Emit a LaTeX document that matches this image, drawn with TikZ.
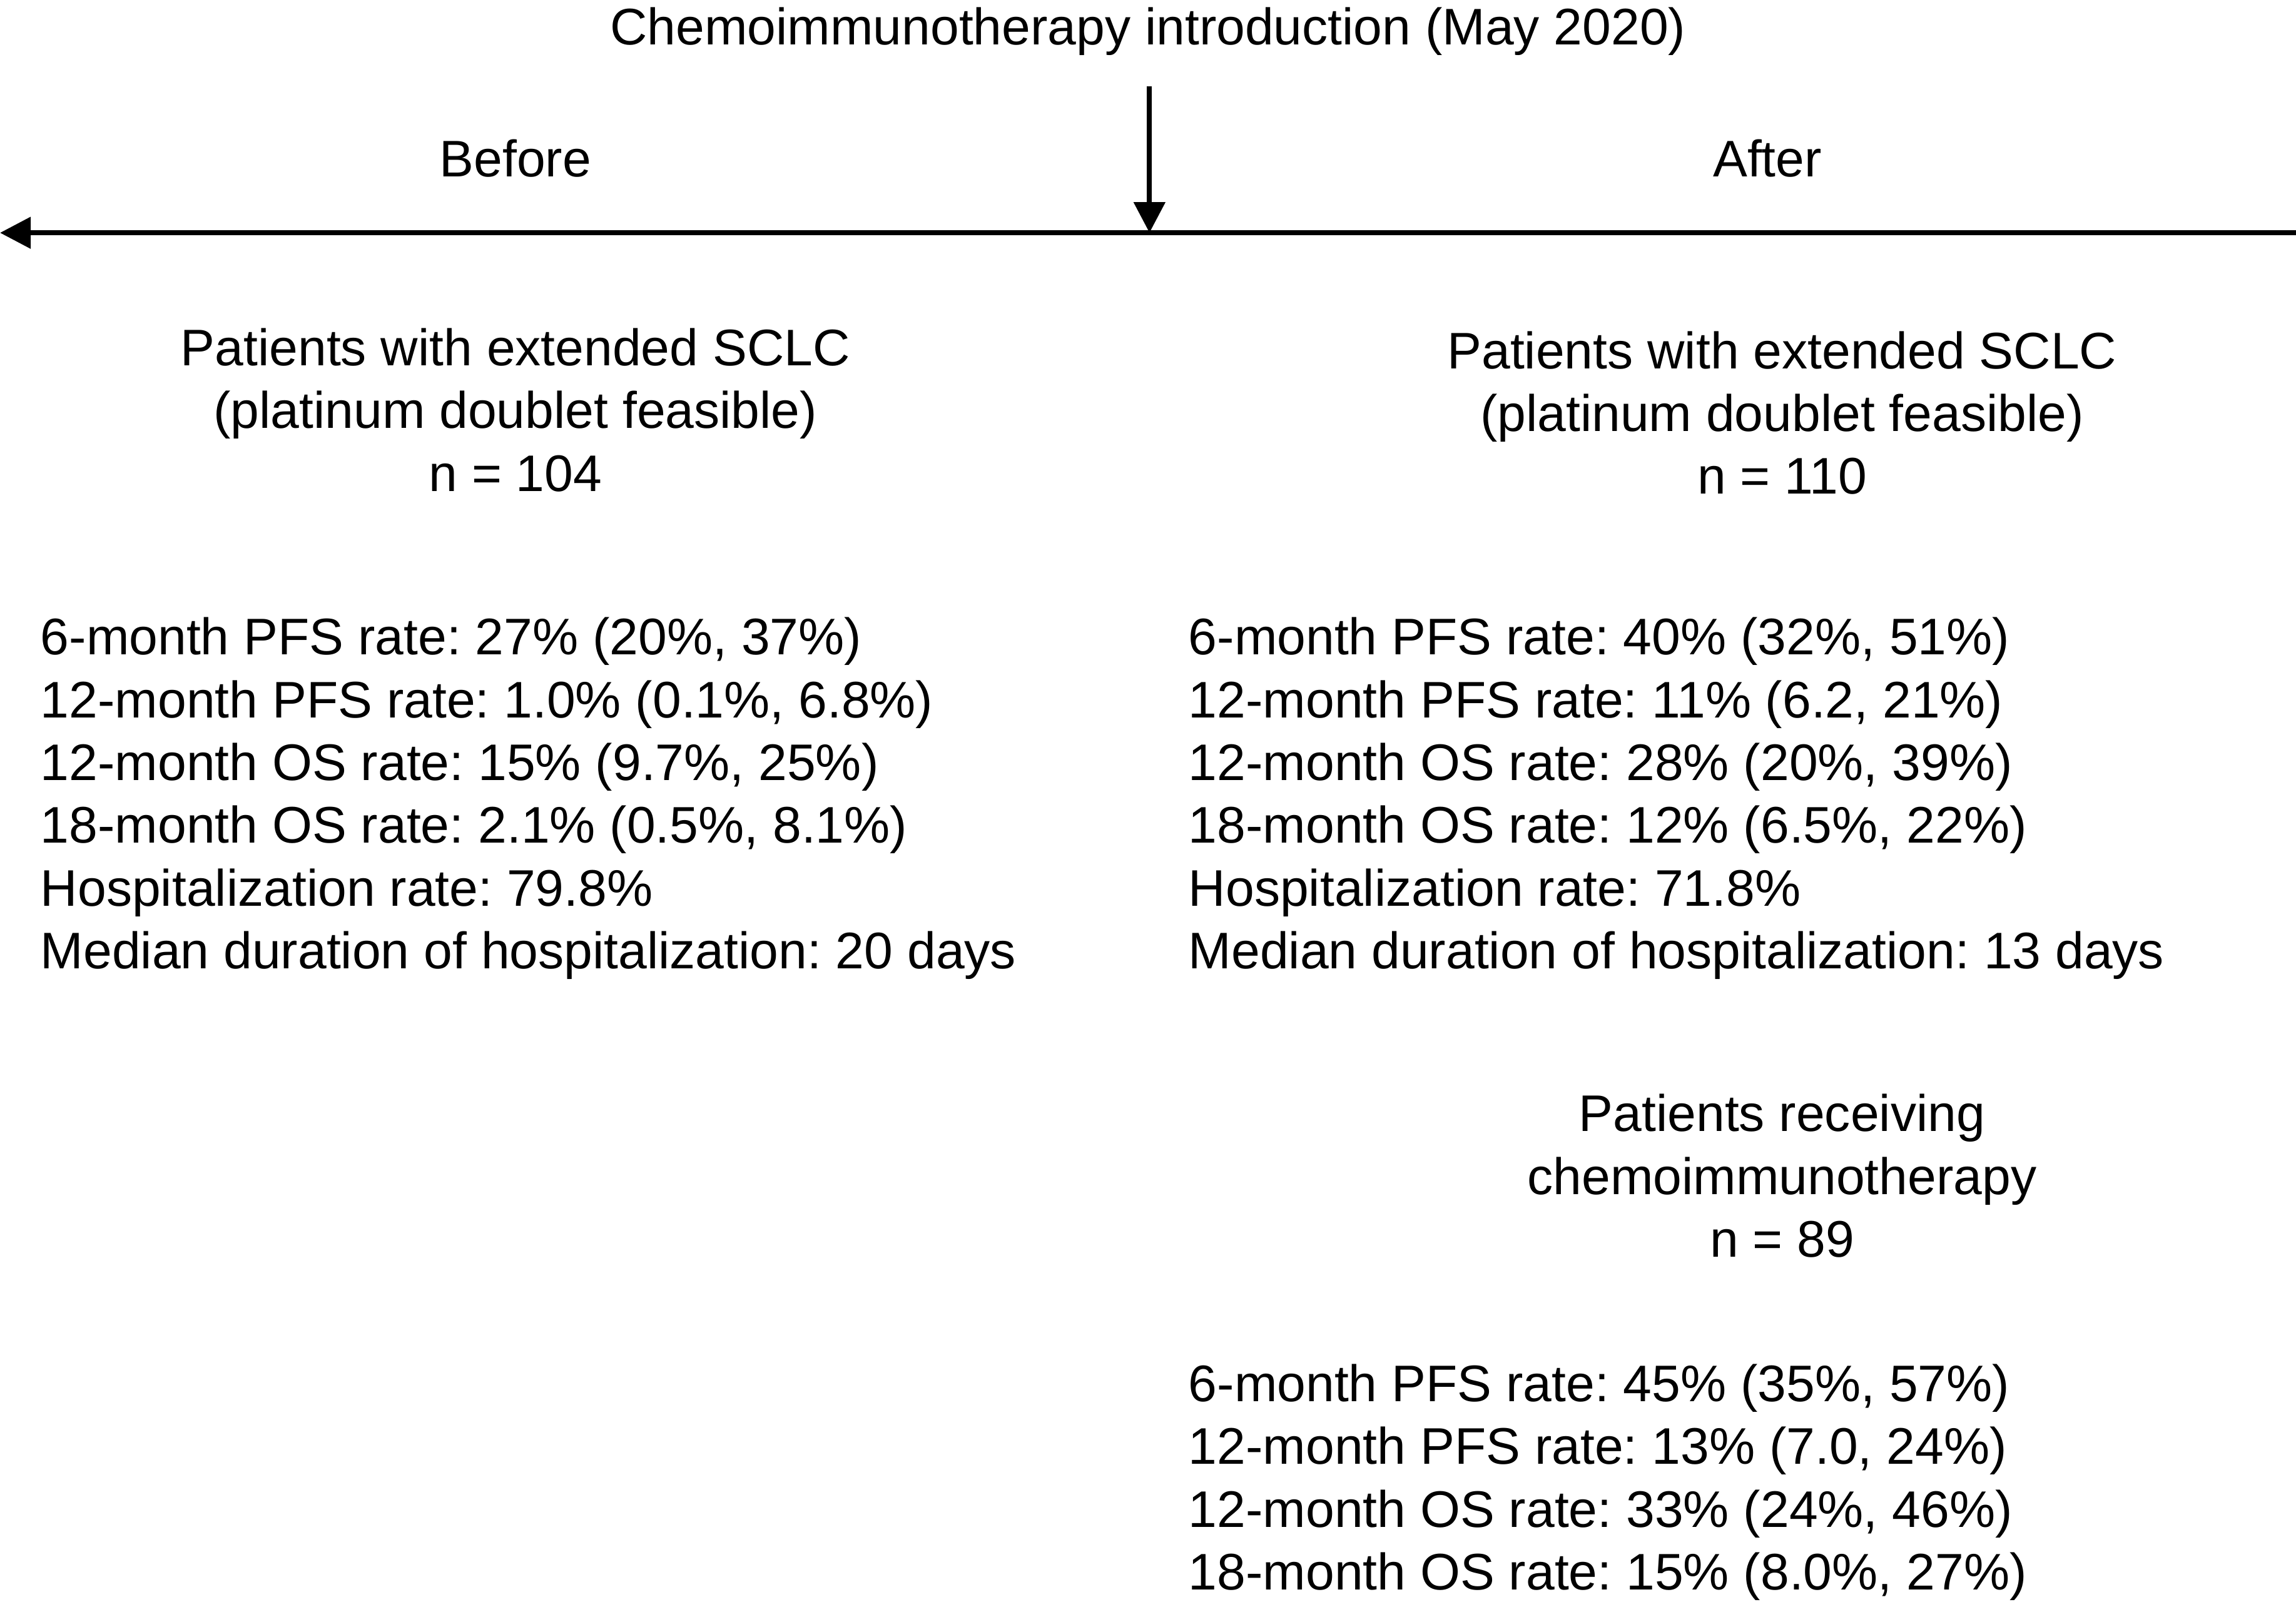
\documentclass[tikz,border=0pt]{standalone}
\usepackage{fontspec}
\setmainfont{Liberation Sans}
\frenchspacing
\usetikzlibrary{arrows.meta}

\begin{document}
\begin{tikzpicture}[
      nodes={font=\fontsize{10}{12.2}\selectfont, inner sep=0pt},
      head/.style={align=center, anchor=north},
      stats/.style={align=left, anchor=north west},
      line width=1pt, >={Triangle[length=2.1mm,width=2.1mm]}
      ]
  \useasboundingbox (0,0) rectangle (15.68,-10.94);

  \node[anchor=base] (intro) at (7.84,-0.305) {Chemoimmunotherapy introduction (May 2020)};
  \node[anchor=base] (before) at (3.52,-1.205) {Before};
  \node[anchor=base] (after) at (12.07,-1.205) {After};

  % time line
  \coordinate (tl) at (0,-1.59);
  \coordinate (tr) at (15.68,-1.59);
  \coordinate (tm) at (7.85,-1.59);
  \coordinate (arr) at (7.85,-0.59);
  \draw[<-] (tl) -- (tr);
  \draw[->] (arr) -- (tm);

  \node[head] (pre) at (3.52,-2.225) {Patients with extended SCLC\\(platinum doublet feasible)\\n = 104};
  \node[head] (post) at (12.17,-2.245) {Patients with extended SCLC\\(platinum doublet feasible)\\n = 110};

  \node[stats] (prestats) at (0.26,-4.20) {6-month PFS rate: 27\% (20\%, 37\%)\\12-month PFS rate: 1.0\% (0.1\%, 6.8\%)\\12-month OS rate: 15\% (9.7\%, 25\%)\\18-month OS rate: 2.1\% (0.5\%, 8.1\%)\\Hospitalization rate: 79.8\%\\Median duration of hospitalization: 20 days};
  \node[stats] (poststats) at (8.10,-4.20) {6-month PFS rate: 40\% (32\%, 51\%)\\12-month PFS rate: 11\% (6.2, 21\%)\\12-month OS rate: 28\% (20\%, 39\%)\\18-month OS rate: 12\% (6.5\%, 22\%)\\Hospitalization rate: 71.8\%\\Median duration of hospitalization: 13 days};

  \node[head] (chemo) at (12.17,-7.455) {Patients receiving\\chemoimmunotherapy\\n = 89};
  \node[stats] (chemostats) at (8.10,-9.30) {6-month PFS rate: 45\% (35\%, 57\%)\\12-month PFS rate: 13\% (7.0, 24\%)\\12-month OS rate: 33\% (24\%, 46\%)\\18-month OS rate: 15\% (8.0\%, 27\%)};

\end{tikzpicture}
\end{document}
